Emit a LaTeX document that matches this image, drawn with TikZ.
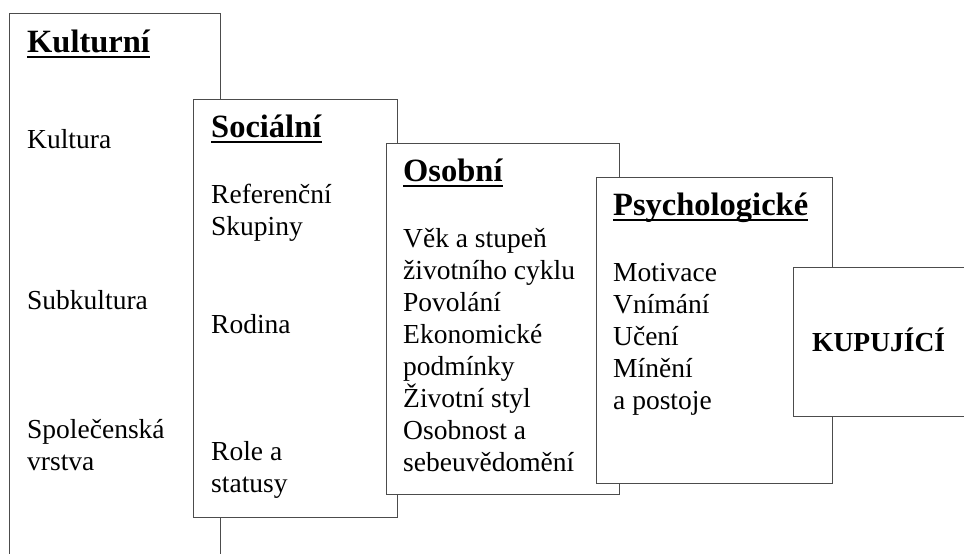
\documentclass[tikz,border=0pt]{standalone}
\usepackage{fontspec}
\setmainfont{Liberation Serif}
\tikzset{
	layer/.style={draw=black!70,line width=1pt,fill=white},%
	heading/.style={anchor=base west,inner sep=0pt,font=\fontsize{32.5}{36}\selectfont\bfseries},%
	item/.style={anchor=base west,inner sep=0pt,align=left,font=\fontsize{27.5}{32}\selectfont},%
	buyer/.style={anchor=base west,inner sep=0pt,font=\fontsize{27.5}{32}\selectfont\bfseries},%
	headline/.style={line width=2pt},%
}

\begin{document}
\begin{tikzpicture}[x=1pt,y=-1pt]
		\clip (0,0) rectangle (964,554);
		% Kulturni {{{
		\draw[layer] (9,13) rectangle (220,580);
		\node[heading] (kult) at (27,52) {Kulturní};
		\draw[headline] ([yshift=-5pt]kult.base west) -- ([yshift=-5pt]kult.base east);
		\node[item] (kultura) at (27,148) {Kultura};
		\node[item] (subkult) at (27,309) {Subkultura};
		\node[item] (vrstva) at (27,470) {Společenská\\vrstva};
		% }}}
		% Socialni {{{
		\draw[layer] (193,99) rectangle (397,517);
		\node[heading] (soc) at (211,137) {Sociální};
		\draw[headline] ([yshift=-5pt]soc.base west) -- ([yshift=-5pt]soc.base east);
		\node[item] (skupiny) at (211,235) {Referenční\\Skupiny};
		\node[item] (rodina) at (211,333) {Rodina};
		\node[item] (role) at (211,492) {Role a\\statusy};
		% }}}
		% Osobni {{{
		\draw[layer] (386,143) rectangle (619,494);
		\node[heading] (osob) at (403,181) {Osobní};
		\draw[headline] ([yshift=-5pt]osob.base west) -- ([yshift=-5pt]osob.base east);
		\node[item] (osoblist) at (403,471) {Věk a stupeň\\životního cyklu\\Povolání\\Ekonomické\\podmínky\\Životní styl\\Osobnost a\\sebeuvědomění};
		% }}}
		% Psychologicke {{{
		\draw[layer] (596,177) rectangle (832,483);
		\node[heading] (psych) at (613,215) {Psychologické};
		\draw[headline] ([yshift=-5pt]psych.base west) -- ([yshift=-5pt]psych.base east);
		\node[item] (psychlist) at (613,409) {Motivace\\Vnímání\\Učení\\Mínění\\a postoje};
		% }}}
		% Kupujici {{{
		\draw[layer] (793,267) rectangle (990,416);
		\node[buyer] (kup) at (812,351) {KUPUJÍCÍ};
		% }}}
	\end{tikzpicture}
\end{document}
